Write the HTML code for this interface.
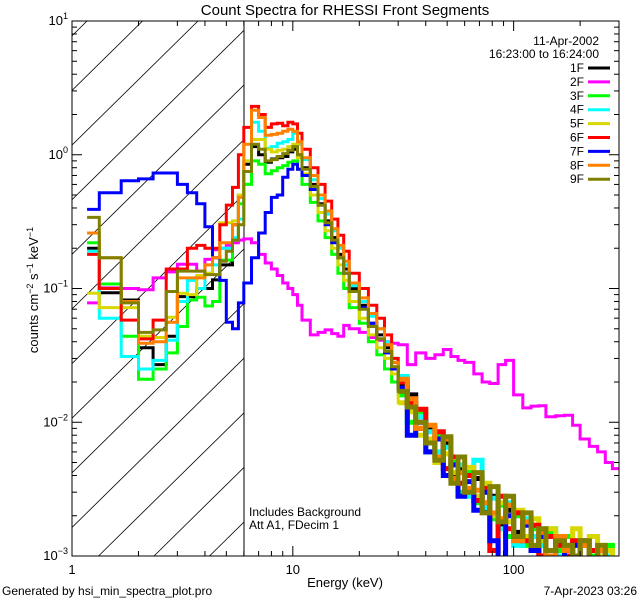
<!DOCTYPE html>
<html><head><meta charset="utf-8"><style>
html,body{margin:0;padding:0;background:#fff;}
svg{display:block;font-family:"Liberation Sans",sans-serif;}
</style></head>
<body>
<svg id="chart" width="640" height="600" viewBox="0 0 640 600" xmlns="http://www.w3.org/2000/svg">
<defs><clipPath id="plotclip"><rect x="72" y="21" width="547" height="535"/></clipPath>
<clipPath id="hatchclip"><rect x="72" y="21" width="172" height="535"/></clipPath></defs>
<rect width="640" height="600" fill="#fff"/>
<text x="345" y="15" font-size="15" text-anchor="middle">Count Spectra for RHESSI Front Segments</text>
<g id="hatch" clip-path="url(#hatchclip)" stroke="#000" stroke-width="0.8"></g>
<line x1="244" y1="21" x2="244" y2="556" stroke="#000" stroke-width="1"/>
<g id="series" clip-path="url(#plotclip)" fill="none" stroke-width="3" stroke-linejoin="miter"></g>
<rect x="72" y="21" width="547" height="535" fill="none" stroke="#000" stroke-width="1"/>
<g id="ticks" stroke="#000" stroke-width="1"></g>
<g id="labels" font-size="13"></g>
<text x="345" y="587" font-size="13" text-anchor="middle">Energy (keV)</text>
<text transform="translate(38,290) rotate(-90)" font-size="13" text-anchor="middle">counts cm<tspan dy="-5" font-size="9">−2</tspan><tspan dy="5"> s</tspan><tspan dy="-5" font-size="9">−1</tspan><tspan dy="5"> keV</tspan><tspan dy="-5" font-size="9">−1</tspan></text>
<text x="2" y="595" font-size="12">Generated by hsi_min_spectra_plot.pro</text>
<text x="637" y="595" font-size="12" text-anchor="end">7-Apr-2023 03:26</text>
<text x="249" y="516" font-size="12">Includes Background</text>
<text x="249" y="529" font-size="12">Att A1, FDecim 1</text>
<text x="599" y="45" font-size="12" text-anchor="end">11-Apr-2002</text>
<text x="599" y="58" font-size="12" text-anchor="end">16:23:00 to 16:24:00</text>
<g id="legend" font-size="12"></g>
</svg>
<script>
const edges=[1.17,1.33,1.67,2.0,2.33,2.67,3.0,3.33,3.67,4.0,4.33,4.67,5.0,5.33,5.67,6.0,6.5,7,7.5,8,8.5,9,9.5,10,10.5,11,12,13,14,15,16,17,18,20,22,24,26,28,30,33,36,40,44,48,52,56,60,66,72,78,85,92,100,110,120,130,140,155,170,185,200,220,240,260,280,300];
const seriesNames=["1F","2F","3F","4F","5F","6F","7F","8F","9F"];
const s1F=[0.2,0.093,0.082,0.036,0.027,0.044,0.087,0.087,0.1,0.1,0.116,0.15,0.15,0.3,0.5,
0.85,1.15,1.0,0.88,0.93,0.95,0.97,1.05,1.1,1.0,0.8,0.6,0.43,0.32,0.24,0.18,0.14,0.1,0.075,0.055,0.045,0.036,0.028,
0.019,0.016,0.009,0.009,0.0055,0.007,0.004,0.0045,0.003,0.0038,0.0022,0.0028,0.0017,0.0022,0.0015,0.0018,0.0011,0.0015,0.0009,0.0014,0.0012,0.0008,0.0013,0.0009,0.0011,0.0008,0.0009];
const s2F=[0.078,0.101,0.1,0.098,0.12,0.133,0.152,0.152,0.135,0.165,0.195,0.2,0.21,0.22,0.23,
0.235,0.22,0.18,0.155,0.14,0.125,0.11,0.1,0.09,0.075,0.058,0.045,0.047,0.049,0.046,0.044,0.053,0.05,0.047,0.043,0.041,0.04,0.039,
0.038,0.027,0.033,0.03,0.032,0.035,0.031,0.029,0.028,0.023,0.02,0.0195,0.027,0.029,0.016,0.0128,0.0132,0.0133,0.011,0.0112,0.0113,0.0095,0.0075,0.0066,0.006,0.005,0.0045];
const s3F=[0.22,0.108,0.044,0.021,0.025,0.033,0.052,0.082,0.086,0.074,0.08,0.163,0.163,0.23,0.43,
0.6,0.9,0.85,0.72,0.76,0.8,0.83,0.88,0.9,0.78,0.6,0.44,0.32,0.24,0.18,0.13,0.1,0.072,0.055,0.04,0.032,0.025,0.02,
0.016,0.01,0.012,0.006,0.008,0.0045,0.005,0.003,0.0042,0.0025,0.003,0.0019,0.0024,0.0014,0.002,0.0012,0.0016,0.0009,0.0015,0.0011,0.0014,0.0008,0.0012,0.001,0.0008,0.0012,0.0008];
const s4F=[0.19,0.06,0.031,0.025,0.029,0.041,0.08,0.115,0.1,0.13,0.15,0.2,0.2,0.24,0.33,
0.9,1.75,1.5,1.12,1.15,1.22,1.25,1.3,1.45,1.2,0.92,0.65,0.47,0.36,0.27,0.2,0.15,0.105,0.08,0.062,0.05,0.04,0.03,
0.022,0.013,0.011,0.0085,0.006,0.0065,0.0038,0.0048,0.0028,0.0052,0.0023,0.0027,0.0016,0.0025,0.0012,0.0019,0.0014,0.0012,0.0016,0.001,0.0012,0.0013,0.0009,0.0011,0.0009,0.001,0.0008];
const s5F=[0.092,0.072,0.072,0.044,0.043,0.061,0.092,0.09,0.125,0.13,0.17,0.31,0.31,0.32,0.5,
0.9,1.3,1.3,1.1,1.05,1.08,1.1,1.15,1.2,0.95,0.72,0.5,0.37,0.27,0.2,0.15,0.115,0.08,0.06,0.045,0.036,0.03,0.023,
0.014,0.012,0.008,0.0075,0.005,0.0058,0.0042,0.0035,0.0046,0.0028,0.0035,0.002,0.0025,0.0018,0.0022,0.0014,0.0019,0.0013,0.0016,0.0014,0.0011,0.0016,0.0012,0.0014,0.001,0.0011,0.0009];
const s6F=[0.18,0.1,0.058,0.042,0.058,0.14,0.14,0.2,0.21,0.2,0.2,0.3,0.42,0.57,1.0,
1.6,2.3,2.0,1.6,1.7,1.72,1.65,1.75,1.7,1.45,1.1,0.8,0.6,0.45,0.33,0.25,0.19,0.13,0.1,0.075,0.06,0.045,0.03,
0.02,0.014,0.0125,0.007,0.0085,0.0045,0.0055,0.0035,0.004,0.0026,0.0032,0.0011,0.0028,0.0016,0.0021,0.0013,0.0017,0.001,0.0014,0.0012,0.001,0.0013,0.0009,0.0011,0.0008,0.0009,0.0008];
const s7F=[0.39,0.52,0.64,0.66,0.73,0.73,0.6,0.52,0.43,0.29,0.17,0.115,0.056,0.05,0.078,
0.11,0.17,0.26,0.37,0.48,0.5,0.68,0.78,0.85,0.78,0.7,0.55,0.42,0.3,0.22,0.17,0.13,0.095,0.072,0.055,0.042,0.033,0.025,
0.018,0.008,0.01,0.006,0.0075,0.004,0.0048,0.0028,0.0036,0.0022,0.003,0.0013,0.0008,0.002,0.0014,0.0017,0.0011,0.0014,0.0008,0.0013,0.0009,0.0012,0.0009,0.0007,0.0011,0.0008,0.0009];
const s8F=[0.26,0.17,0.08,0.039,0.04,0.056,0.12,0.12,0.12,0.15,0.17,0.22,0.22,0.3,0.48,
1.2,2.15,1.9,1.4,1.42,1.45,1.5,1.55,1.5,1.25,0.95,0.7,0.5,0.38,0.28,0.21,0.16,0.11,0.085,0.065,0.05,0.038,0.028,
0.021,0.015,0.009,0.0095,0.0055,0.0075,0.0038,0.0042,0.0032,0.0031,0.0025,0.0021,0.0019,0.0024,0.0013,0.0018,0.0012,0.0015,0.001,0.0014,0.0011,0.0009,0.0012,0.0008,0.0011,0.0009,0.0008];
const s9F=[0.34,0.17,0.078,0.047,0.049,0.095,0.135,0.135,0.135,0.127,0.127,0.16,0.19,0.23,0.3,
0.75,1.2,1.1,0.9,0.92,0.97,1.02,1.08,1.15,1.0,0.78,0.58,0.42,0.31,0.23,0.17,0.13,0.095,0.07,0.052,0.042,0.034,0.026,
0.017,0.013,0.01,0.007,0.0052,0.0078,0.0035,0.0055,0.003,0.0042,0.0021,0.0033,0.0018,0.0028,0.0014,0.0021,0.0012,0.0016,0.0011,0.0013,0.0012,0.001,0.0013,0.0009,0.0012,0.0008,0.0009];
const seriesValues=[s1F,s2F,s3F,s4F,s5F,s6F,s7F,s8F,s9F];
const seriesColors=["#000000","#ff00ff","#00ff00","#00ffff","#d8d800","#ff0000","#0000ff","#ff8000","#808000"];
const yTickExps=[1,0,-1,-2,-3];
const xTickLabels=["1","10","100"];
const xTickValues=[1,10,100];

const X0=72,X1=619,Y0=21,Y1=556,XMIN=1,XMAX=300,YMIN=-3,YMAX=1;
const TAIL_START=38;
function xs(e){return X0+(Math.log10(e)-Math.log10(XMIN))/(Math.log10(XMAX)-Math.log10(XMIN))*(X1-X0);}
function ys(v){const l=Math.log10(Math.max(v,1e-5));return Y1-(l-YMIN)/(YMAX-YMIN)*(Y1-Y0);}
const NS="http://www.w3.org/2000/svg";
function mk(tag,attrs,parent){const el=document.createElementNS(NS,tag);for(const k in attrs)el.setAttribute(k,attrs[k]);parent.appendChild(el);return el;}

const hatch=document.getElementById('hatch');
for(let j=-12;j<4;j++){
  const xb=98.5+55.5*j;
  const ln=mk('line',{x1:xb,y1:Y1,x2:xb+543.5,y2:Y0},hatch);
  
  
}

const sg=document.getElementById('series');
seriesValues.forEach((vals,i)=>{
  let d='M'+xs(edges[0]).toFixed(1)+','+ys(vals[0]).toFixed(1);
  for(let k=0;k<vals.length;k++){
    if(k>0)d+='V'+ys(vals[k]).toFixed(1);
    d+='H'+xs(edges[k+1]).toFixed(1);
  }
  const p=mk('path',{d:d,stroke:seriesColors[i]},sg);
  
  
  if(i!==1){
    let d2='M'+xs(edges[TAIL_START]).toFixed(1)+','+ys(vals[TAIL_START]).toFixed(1);
    for(let k=TAIL_START;k<vals.length;k++){
      if(k>TAIL_START)d2+='V'+ys(vals[k]).toFixed(1);
      d2+='H'+xs(edges[k+1]).toFixed(1);
    }
    const p2=mk('path',{d:d2,stroke:seriesColors[i],'stroke-width':5},sg);
    
    
  }
});

const tg=document.getElementById('ticks');
function tick(x1,y1,x2,y2){const t=mk('line',{x1:x1,y1:y1,x2:x2,y2:y2},tg);}
for(let dec=1;dec<=100;dec*=10){
  for(let m=1;m<=9;m++){
    const e=dec*m; if(e>XMAX)break;
    const x=xs(e),len=(m===1)?10:5;
    tick(x,Y1,x,Y1-len);tick(x,Y0,x,Y0+len);
  }
}
for(let ex=-3;ex<1;ex++){
  for(let m=1;m<=9;m++){
    const y=ys(m*Math.pow(10,ex)),len=(m===1)?10:5;
    tick(X0,y,X0+len,y);tick(X1,y,X1-len,y);
  }
}
const lg=document.getElementById('labels');
xTickValues.forEach((v,i)=>{
  const t=mk('text',{x:xs(v),y:Y1+18,'text-anchor':'middle'},lg);
  t.textContent=xTickLabels[i];
  
  
});
yTickExps.forEach(ex=>{
  const t=mk('text',{x:X0-4,y:ys(Math.pow(10,ex))+4,'text-anchor':'end'},lg);
  
  
  const a=document.createElementNS(NS,'tspan');a.textContent='10';t.appendChild(a);
  const b=document.createElementNS(NS,'tspan');b.setAttribute('dy','-6');b.setAttribute('font-size','9');b.textContent=(ex<0?'−':'')+Math.abs(ex);t.appendChild(b);
});
const leg=document.getElementById('legend');
seriesNames.forEach((n,i)=>{
  const y=68+i*13.9;
  const t=mk('text',{x:584,y:y+4,'text-anchor':'end'},leg);
  t.textContent=n;
  
  
  const l=mk('line',{x1:588,y1:y,x2:610,y2:y,stroke:seriesColors[i],'stroke-width':3},leg);
  
  
});
</script>
</body></html>
